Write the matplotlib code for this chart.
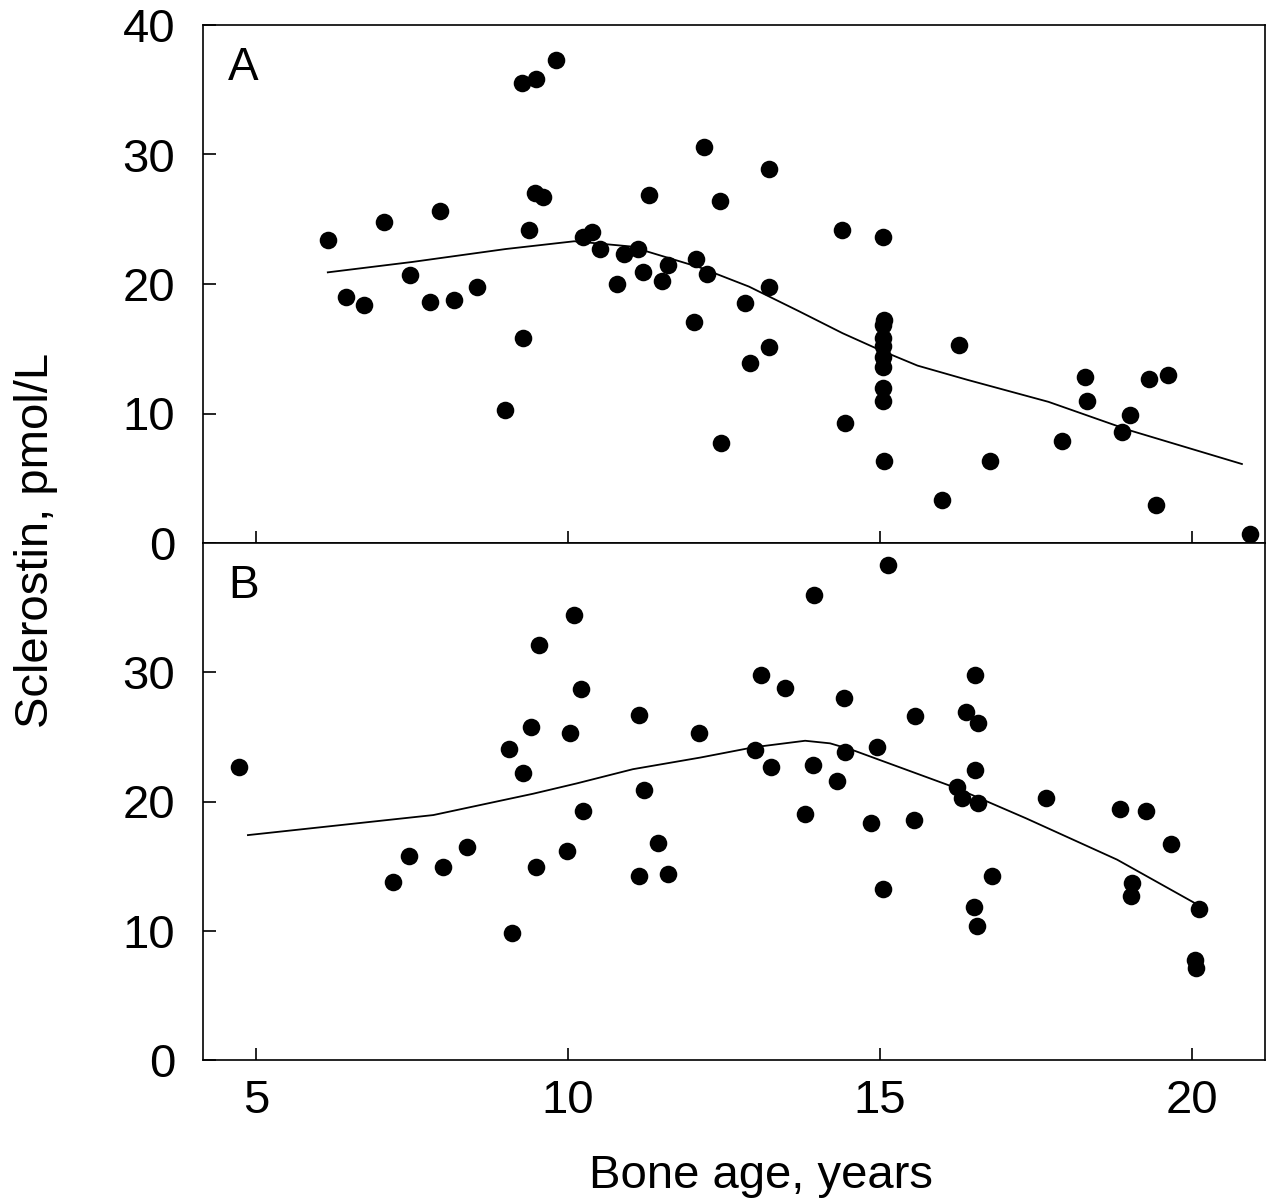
import numpy as np
import matplotlib.pyplot as plt

plt.rcParams['font.family'] = ['Liberation Sans', 'DejaVu Sans']

# Panel A: scatter data (bone age, sclerostin)
age_a = [6.15, 6.44, 6.73, 7.05, 7.47, 7.79, 7.95, 8.17, 8.54, 8.99, 9.28, 9.26, 9.49, 9.81,
         9.38, 9.47, 9.60, 10.24, 10.38, 10.51, 10.90, 11.12, 10.79, 11.20, 11.30, 11.60,
         11.51, 12.05, 12.23, 12.02, 12.18, 12.44, 12.45, 12.84, 12.92, 13.22, 13.22, 13.22,
         14.39, 14.44, 15.05, 15.06, 15.04, 15.05, 15.05, 15.04, 15.05, 15.05, 15.05, 15.06,
         15.99, 16.27, 16.76, 17.92, 18.29, 18.32, 18.88, 19.00, 19.31, 19.42, 19.62, 20.93]
scl_a = [23.4, 19.0, 18.4, 24.8, 20.7, 18.6, 25.6, 18.8, 19.8, 10.3, 15.8, 35.5, 35.8, 37.3,
         24.2, 27.0, 26.7, 23.6, 24.0, 22.7, 22.3, 22.7, 20.0, 20.9, 26.9, 21.5,
         20.2, 21.9, 20.8, 17.1, 30.6, 26.4, 7.7, 18.5, 13.9, 28.9, 19.8, 15.1,
         24.2, 9.3, 23.6, 17.2, 16.8, 15.8, 15.2, 14.4, 13.6, 12.0, 11.0, 6.3,
         3.3, 15.3, 6.3, 7.9, 12.8, 11.0, 8.6, 9.9, 12.7, 2.9, 13.0, 0.7]

# Panel A: smooth fit
fit_age_a = [6.15, 7.5, 9.0, 10.1, 11.0, 12.1, 12.9, 13.7, 14.4, 15.0, 15.6, 16.4, 17.7, 19.0, 20.8]
fit_scl_a = [20.9, 21.7, 22.7, 23.3, 22.9, 21.3, 19.8, 17.9, 16.2, 14.9, 13.7, 12.6, 10.9, 8.7, 6.1]

# Panel B: scatter data
age_b = [4.73, 7.19, 7.45, 7.99, 8.38, 9.05, 9.10, 9.28, 9.41, 9.49, 9.53, 10.10, 10.21,
         10.03, 10.24, 9.99, 11.14, 11.22, 11.44, 11.14, 11.60, 12.10,
         13.09, 13.48, 13.00, 13.25, 13.94, 15.13, 14.42, 13.93, 13.80, 14.31, 14.44,
         14.95, 14.86, 15.05, 15.56, 15.54, 16.52, 16.38, 16.57, 16.52, 16.23, 16.31,
         16.57, 16.79, 16.51, 16.55, 17.66, 18.85, 19.26, 19.66, 19.04, 19.03, 20.11,
         20.05, 20.06]
scl_b = [22.7, 13.8, 15.8, 14.9, 16.5, 24.1, 9.8, 22.2, 25.8, 14.9, 32.1, 34.4, 28.7,
         25.3, 19.3, 16.2, 26.7, 20.9, 16.8, 14.2, 14.4, 25.3,
         29.8, 28.8, 24.0, 22.7, 36.0, 38.3, 28.0, 22.8, 19.0, 21.6, 23.8,
         24.2, 18.3, 13.2, 26.6, 18.6, 29.8, 26.9, 26.1, 22.4, 21.1, 20.3,
         19.9, 14.2, 11.8, 10.4, 20.3, 19.4, 19.3, 16.7, 13.7, 12.7, 11.7,
         7.7, 7.1]

# Panel B: smooth fit
fit_age_b = [4.87, 7.84, 9.44, 10.14, 11.04, 12.12, 12.98, 13.8, 14.2, 14.55, 16.19, 17.34, 18.8, 20.06]
fit_scl_b = [17.4, 18.95, 20.6, 21.4, 22.5, 23.4, 24.2, 24.7, 24.5, 24.0, 21.1, 18.7, 15.5, 12.1]

fig = plt.figure(figsize=(12.72, 11.99), dpi=100)
left, right = 203 / 1272, 1265 / 1272
ax_a = fig.add_axes([left, 1 - 543 / 1199, right - left, (543 - 25) / 1199])
ax_b = fig.add_axes([left, 1 - 1060 / 1199, right - left, (1060 - 543) / 1199], sharex=ax_a)

for ax, xs, ys, fx, fy, letter in [(ax_a, age_a, scl_a, fit_age_a, fit_scl_a, 'A'),
                                   (ax_b, age_b, scl_b, fit_age_b, fit_scl_b, 'B')]:
    ax.scatter(xs, ys, s=160, color='black', linewidths=0, zorder=3)
    ax.plot(fx, fy, color='black', lw=1.3, zorder=2)
    ax.set_ylim(0, 40)
    ax.set_xlim(4.15, 21.17)
    ax.set_xticks([5, 10, 15, 20])
    ax.tick_params(direction='in', length=9, width=1.2, labelsize=34)
    ax.tick_params(axis='y', pad=20)
    ax.tick_params(axis='x', pad=14)
    for sp in ax.spines.values():
        sp.set_linewidth(1.2)
    ax.text(0.0235, 0.893, letter, transform=ax.transAxes, fontsize=33,
            va='baseline', ha='left')

ax_a.set_yticks([0, 10, 20, 30, 40])
ax_a.tick_params(axis='x', labelbottom=False)
ax_b.set_yticks([0, 10, 20, 30])

fig.text(36 / 1272, 1 - 540 / 1199, 'Sclerostin, pmol/L', rotation=90,
         fontsize=34, ha='center', va='center')
fig.text(761 / 1272, 1 - 1188 / 1199, 'Bone age, years', fontsize=34,
         ha='center', va='baseline')

fig.savefig('out.png', dpi=100)
